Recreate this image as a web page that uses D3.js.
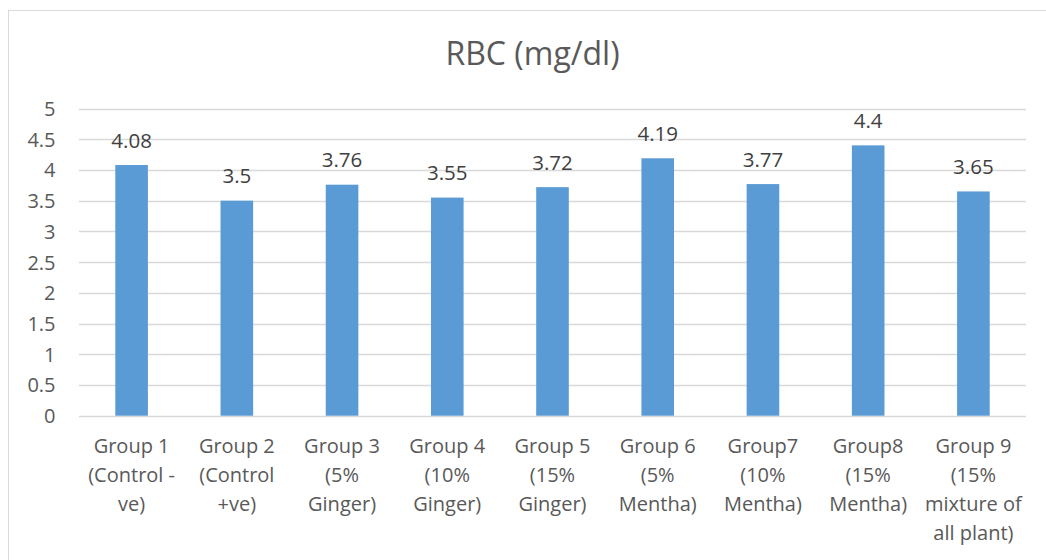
<!DOCTYPE html>
<html><head><meta charset="utf-8">
<script src="https://cdn.jsdelivr.net/npm/d3@7"></script>
<style>body{margin:0;background:#fff}svg{display:block}</style>
</head><body>
<script>
const categories = [
  ["Group 1","(Control -","ve)"],
  ["Group 2","(Control","+ve)"],
  ["Group 3","(5%","Ginger)"],
  ["Group 4","(10%","Ginger)"],
  ["Group 5","(15%","Ginger)"],
  ["Group 6","(5%","Mentha)"],
  ["Group7","(10%","Mentha)"],
  ["Group8","(15%","Mentha)"],
  ["Group 9","(15%","mixture of","all plant)"]
];
const values = [4.08, 3.5, 3.76, 3.55, 3.72, 4.19, 3.77, 4.4, 3.65];
const yTicks = [0, 0.5, 1, 1.5, 2, 2.5, 3, 3.5, 4, 4.5, 5];
const title = "RBC (mg/dl)";

(function(){
const W = 1046, H = 560;
const font = "'Open Sans', sans-serif";
const fs = 20;
const svg = d3.select("body").append("svg").attr("width", W).attr("height", H);

svg.append("rect").attr("x", 8.5).attr("y", 10.5).attr("width", W - 8).attr("height", H)
  .attr("fill", "#fff").attr("stroke", "#d9d9d9");

const pL = 79, pR = 1026, pT = 108.5, pB = 415.7;
const x = d3.scaleBand().domain(d3.range(categories.length)).range([pL, pR]).paddingInner(0.69).paddingOuter(0.345);
const y = d3.scaleLinear().domain([0, 5]).range([pB, pT]);

svg.append("text").attr("x", 532.5).attr("y", 65).attr("text-anchor", "middle")
  .attr("font-family", font).attr("font-size", 32).attr("fill", "#595959").text(title);

const g = svg.append("g");
g.selectAll("line.grid").data(yTicks).join("line").attr("class", "grid")
  .attr("x1", pL).attr("x2", pR)
  .attr("y1", d => Math.round(y(d)) + 0.5).attr("y2", d => Math.round(y(d)) + 0.5)
  .attr("stroke", "#d9d9d9").attr("stroke-width", 1.3);

const yAxis = d3.axisLeft(y).tickValues(yTicks).tickSize(0).tickPadding(0).tickFormat(d => String(d));
const ya = svg.append("g").attr("transform", `translate(55.5,0)`).call(yAxis);
ya.select(".domain").remove();
ya.selectAll("text").attr("font-family", font).attr("font-size", fs).attr("fill", "#595959").attr("dy", "0.35em");

g.selectAll("rect.bar").data(values).join("rect").attr("class", "bar")
  .attr("x", (d, i) => x(i)).attr("width", x.bandwidth())
  .attr("y", d => y(d)).attr("height", d => y(0) - y(d)).attr("fill", "#5b9bd5");

g.selectAll("text.val").data(values).join("text").attr("class", "val")
  .attr("x", (d, i) => x(i) + x.bandwidth() / 2).attr("y", d => y(d) - 17.5)
  .attr("text-anchor", "middle").attr("font-family", font).attr("font-size", fs + 0.5)
  .attr("fill", "#404040").text(d => String(d));

const cl = svg.selectAll("text.cat").data(categories).join("text").attr("class", "cat")
  .attr("text-anchor", "middle").attr("font-family", font).attr("font-size", fs).attr("fill", "#595959");
cl.each(function(lines, i) {
  const t = d3.select(this);
  const cx = x(i) + x.bandwidth() / 2;
  lines.forEach((ln, k) => {
    t.append("tspan").attr("x", cx).attr("y", 453 + k * 29).text(ln);
  });
});
})();
</script>
</body></html>
